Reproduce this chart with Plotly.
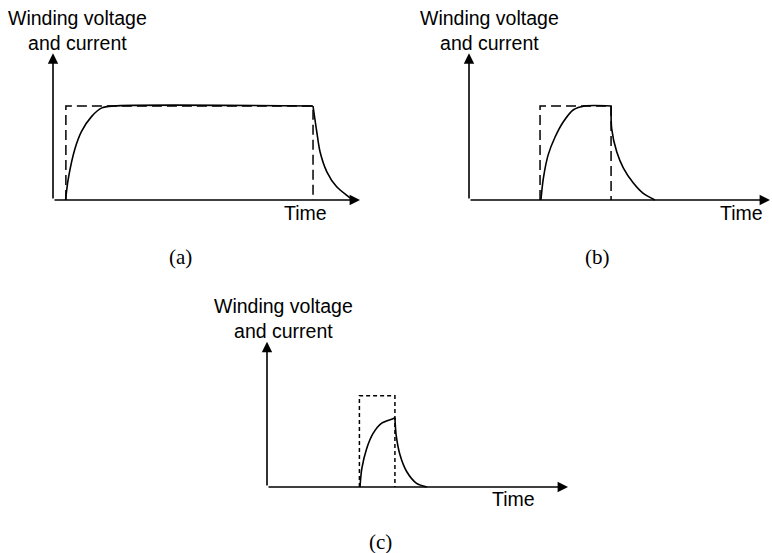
import plotly.graph_objects as go

# Figure size in px (the reference is a 772x553 drawing)
W, H = 772, 553

# ---- data (time in arbitrary units, amplitude normalised to the applied voltage) ----
# (a) long pulse: current reaches the full level
a_volt_t = [0.42, 0.42, 8.47, 8.47]
a_volt_v = [0, 1, 1, 0]
a_rise_t = [0.41, 0.50, 0.72, 0.93, 1.26, 1.59, 1.96, 8.47]
a_rise_i = [0, 0.23, 0.55, 0.73, 0.89, 0.98, 1.0, 1.0]
a_fall_t = [8.47, 8.59, 8.70, 8.92, 9.24, 9.57, 9.78]
a_fall_i = [1.0, 0.73, 0.51, 0.30, 0.14, 0.05, 0.0]

# (b) shorter pulse: current just reaches the full level
b_volt_t = [2.36, 2.36, 4.72, 4.72]
b_volt_v = [0, 1, 1, 0]
b_rise_t = [2.39, 2.47, 2.63, 2.86, 3.13, 3.47, 3.85, 4.72]
b_rise_i = [0, 0.23, 0.48, 0.67, 0.83, 0.96, 1.0, 1.0]
b_fall_t = [4.72, 4.74, 4.91, 5.13, 5.46, 5.79, 6.18]
b_fall_i = [1.0, 0.76, 0.51, 0.34, 0.18, 0.07, 0.0]

# (c) very short pulse: current never reaches the full level
c_volt_t = [3.07, 3.07, 4.25, 4.25]
c_volt_v = [0, 1, 1, 0]
c_rise_t = [3.09, 3.15, 3.31, 3.53, 3.81, 4.20, 4.25]
c_rise_i = [0, 0.20, 0.42, 0.59, 0.70, 0.75, 0.76]
c_fall_t = [4.25, 4.29, 4.42, 4.64, 4.97, 5.31]
c_fall_i = [0.76, 0.57, 0.35, 0.17, 0.04, 0.0]

# axis arrow tips (data units)
a_axis_tip = (10.0, 1.56)
b_axis_tip = (10.0, 1.56)
c_axis_tip = (10.0, 1.59)

panel_labels = ["(a)", "(b)", "(c)"]
y_title = "Winding voltage<br>and current"
x_title = "Time"

X_RANGE = [-0.3, 10.0]
Y_RANGE = [-0.1, 1.7]


def domains(ox, oy, sx, sy):
    # place a subplot so that data (0,0) lands on pixel (ox, oy)
    x0 = ox + X_RANGE[0] * sx
    x1 = ox + X_RANGE[1] * sx
    y0 = oy - Y_RANGE[0] * sy
    y1 = oy - Y_RANGE[1] * sy
    return [max(x0 / W, 0), min(x1 / W, 1)], [max(1 - y0 / H, 0), min(1 - y1 / H, 1)]


panels = [
    dict(xa="x", ya="y", origin=(53, 200), scale=(30.7, 94.0), dash="10px,5px",
         volt=(a_volt_t, a_volt_v), rise=(a_rise_t, a_rise_i), fall=(a_fall_t, a_fall_i),
         tip=a_axis_tip, title_xy=(77, 30), time_xy=(305, 213), label_xy=(180, 257)),
    dict(xa="x2", ya="y2", origin=(469, 200), scale=(30.1, 94.0), dash="10px,5px",
         volt=(b_volt_t, b_volt_v), rise=(b_rise_t, b_rise_i), fall=(b_fall_t, b_fall_i),
         tip=b_axis_tip, title_xy=(489, 30), time_xy=(741, 213), label_xy=(597, 257)),
    dict(xa="x3", ya="y3", origin=(267, 487), scale=(30.1, 91.3), dash="4px,3px",
         volt=(c_volt_t, c_volt_v), rise=(c_rise_t, c_rise_i), fall=(c_fall_t, c_fall_i),
         tip=c_axis_tip, title_xy=(283, 318), time_xy=(513, 499), label_xy=(380, 542)),
]

fig = go.Figure()
annotations = []
layout_axes = {}

for i, p in enumerate(panels):
    xd, yd = domains(*p["origin"], *p["scale"])
    n = "" if i == 0 else str(i + 1)
    layout_axes["xaxis" + n] = dict(domain=xd, range=X_RANGE, visible=False, anchor=p["ya"])
    layout_axes["yaxis" + n] = dict(domain=yd, range=Y_RANGE, visible=False, anchor=p["xa"])

    # applied voltage (dashed)
    fig.add_trace(go.Scatter(x=p["volt"][0], y=p["volt"][1], mode="lines",
                             line=dict(color="black", width=1.5, dash=p["dash"]),
                             xaxis=p["xa"], yaxis=p["ya"], hoverinfo="skip"))
    # winding current (solid)
    for seg in (p["rise"], p["fall"]):
        fig.add_trace(go.Scatter(x=seg[0], y=seg[1], mode="lines",
                                 line=dict(color="black", width=1.6, shape="spline", smoothing=0.8),
                                 xaxis=p["xa"], yaxis=p["ya"], hoverinfo="skip"))

    # axes drawn as arrows
    tx, ty = p["tip"]
    for (x, y) in [(tx, 0), (0, ty)]:
        annotations.append(dict(x=x, y=y, ax=0, ay=0, xref=p["xa"], yref=p["ya"],
                                axref=p["xa"], ayref=p["ya"], text="", showarrow=True,
                                arrowhead=2, arrowsize=1.3, arrowwidth=1.6, arrowcolor="black",
                                standoff=0, startstandoff=0))

    # texts
    sans = dict(family="Liberation Sans, Arial", size=19.5, color="black")
    annotations.append(dict(x=p["title_xy"][0] / W, y=1 - p["title_xy"][1] / H, xref="paper", yref="paper",
                            xanchor="center", yanchor="middle",
                            text=y_title, showarrow=False, align="center", font=sans))
    annotations.append(dict(x=p["time_xy"][0] / W, y=1 - p["time_xy"][1] / H, xref="paper", yref="paper",
                            xanchor="center", yanchor="middle",
                            text=x_title, showarrow=False, font=sans))
    annotations.append(dict(x=p["label_xy"][0] / W, y=1 - p["label_xy"][1] / H, xref="paper", yref="paper",
                            xanchor="center", yanchor="middle",
                            text=panel_labels[i], showarrow=False,
                            font=dict(family="Liberation Serif, Times New Roman", size=21, color="black")))

fig.update_layout(
    width=W, height=H,
    margin=dict(l=0, r=0, t=0, b=0),
    paper_bgcolor="white", plot_bgcolor="rgba(0,0,0,0)",
    showlegend=False,
    annotations=annotations,
    **layout_axes
)

# drop the default page margin so the drawing sits at the window's corner
fig.write_html("out.html", config={"displayModeBar": False},
               post_script="document.body.style.margin='0';")
